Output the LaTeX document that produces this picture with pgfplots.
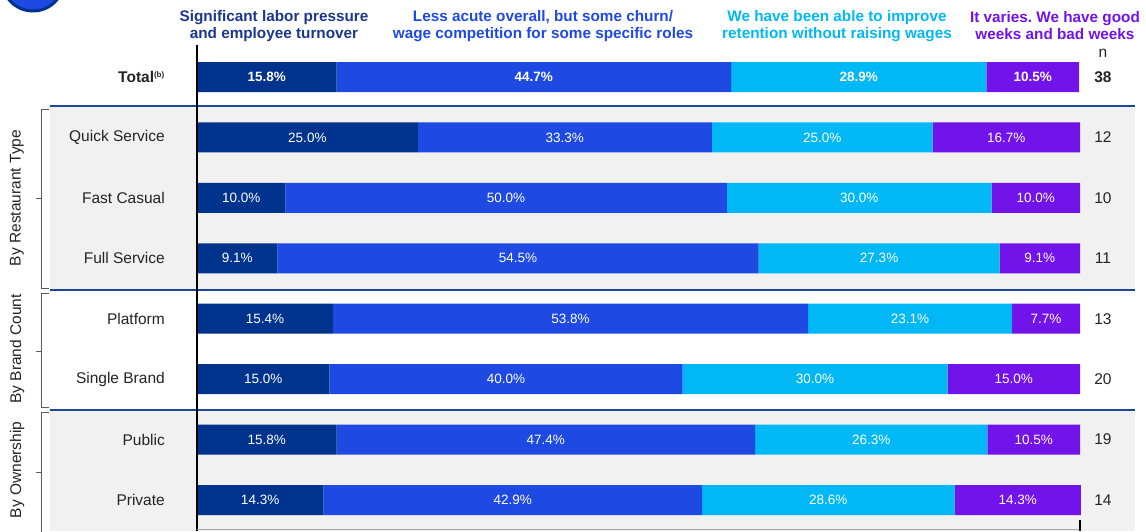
\documentclass[border=0pt]{standalone}
\usepackage{fontspec}
\setmainfont{Liberation Sans}
\usepackage{pgfplots}
\usepackage{pgfplotstable}
\pgfplotsset{compat=1.18}
\frenchspacing
\definecolor{kdark}{RGB}{0,51,141}
\definecolor{kcob}{RGB}{30,73,226}
\definecolor{klight}{RGB}{0,184,245}
\definecolor{kpur}{RGB}{114,19,234}
\definecolor{hdark}{RGB}{27,55,140}
\definecolor{band}{RGB}{241,241,241}
\definecolor{sepblue}{RGB}{30,70,150}
\definecolor{txt}{RGB}{35,35,35}
\definecolor{brk}{RGB}{90,90,90}

\pgfplotstableread{
row a b c d n
0 15.8 44.7 28.9 10.5 38
1 25.0 33.3 25.0 16.7 12
2 10.0 50.0 30.0 10.0 10
3 9.1 54.5 27.3 9.1 11
4 15.4 53.8 23.1 7.7 13
5 15.0 40.0 30.0 15.0 20
6 15.8 47.4 26.3 10.5 19
7 14.3 42.9 28.6 14.3 14
}\datatable

\newcommand{\lab}{\fontsize{15.5}{18}\selectfont}
\newcommand{\hdr}{\fontsize{15.3}{17}\selectfont\bfseries}

\pgfplotsset{
  common/.style={
    at={(0pt,0pt)}, anchor=south west, scale only axis,
    width=883pt, height=484pt,
    xmin=0, xmax=100, ymin=-0.53, ymax=7.48, y dir=reverse,
    /pgf/number format/assume math mode=true,
  },
  seglabel/.style={
    draw=none, mark=none, point meta=explicit,
    visualization depends on={\thisrow{row} \as \rowid},
    nodes near coords={\ifdim\rowid pt<0.5pt\bfseries\fi\pgfmathprintnumber[fixed,fixed zerofill,precision=1,assume math mode=true]{\pgfplotspointmeta}\%},
    nodes near coords align={center},
    every node near coord/.append style={anchor=center, text=white, font=\fontsize{13.5}{15}\selectfont},
  },
}

\begin{document}
\begin{tikzpicture}
\clip (-197pt,-2pt) rectangle (949pt,529pt);
% background bands
\fill[band] (-147pt,239pt) rectangle (938pt,423pt);
\fill[band] (-147pt,-2pt) rectangle (938pt,119pt);
\draw[sepblue, line width=1.1pt] (-147pt,423pt) -- (938pt,423pt);
\draw[sepblue, line width=1.1pt] (-147pt,239pt) -- (938pt,239pt);
\draw[sepblue, line width=1.1pt] (-147pt,119pt) -- (938pt,119pt);
% circle top-left
\draw[kdark, fill=kcob, line width=3pt] (-164pt,549pt) circle (31pt);
% brackets
\draw[brk, line width=1pt] (-148pt,419pt) -- (-155pt,419pt) -- (-155pt,241pt) -- (-148pt,241pt);
\draw[brk, line width=1pt] (-161pt,330pt) -- (-155pt,330pt);
\draw[brk, line width=1pt] (-148pt,236pt) -- (-155pt,236pt) -- (-155pt,122pt) -- (-148pt,122pt);
\draw[brk, line width=1pt] (-161pt,178pt) -- (-155pt,178pt);
\draw[brk, line width=1pt] (-148pt,117pt) -- (-155pt,117pt) -- (-155pt,-5pt);
\draw[brk, line width=1pt] (-161pt,57pt) -- (-155pt,57pt);
\node[rotate=90, text=txt, font=\lab] at (-180pt,331pt) {By Restaurant Type};
\node[rotate=90, text=txt, font=\lab] at (-180pt,180pt) {By Brand Count};
\node[rotate=90, text=txt, font=\lab] at (-180pt,59pt) {By Ownership};
% headers
\node[align=center, text=hdark, font=\hdr] at (77pt,503pt) {Significant labor pressure\\and employee turnover};
\node[align=center, text=kcob, font=\hdr] at (346pt,503pt) {Less acute overall, but some churn/\\wage competition for some specific roles};
\node[align=center, text=klight, font=\hdr] at (640pt,503pt) {We have been able to improve\\retention without raising wages};
\node[align=center, text=kpur, font=\hdr] at (858pt,503pt) {It varies. We have good\\weeks and bad weeks};
\node[text=txt, font=\lab] at (906pt,476pt) {n};

\begin{axis}[common,
  xbar stacked, bar width=30pt,
  axis line style={draw=none},
  xtick=\empty, ytick={0,...,7},
  major tick length=0pt,
  yticklabels={{\textbf{Total}\textsuperscript{\bfseries\fontsize{8}{9}\selectfont(b)}},Quick Service,Fast Casual,Full Service,Platform,Single Brand,Public,Private},
  yticklabel style={anchor=east, inner sep=0pt, xshift=-32pt, font=\lab, text=txt},
  clip=false,
]
\addplot[fill=kdark, draw=none] table[x=a, y=row] {\datatable};
\addplot[fill=kcob, draw=none] table[x=b, y=row] {\datatable};
\addplot[fill=klight, draw=none] table[x=c, y=row] {\datatable};
\addplot[fill=kpur, draw=none] table[x=d, y=row] {\datatable};
\end{axis}

\begin{axis}[common, hide axis, clip=false]
\addplot[seglabel] table[x expr=\thisrow{a}/2, y=row, meta=a] {\datatable};
\addplot[seglabel] table[x expr=\thisrow{a}+\thisrow{b}/2, y=row, meta=b] {\datatable};
\addplot[seglabel] table[x expr=\thisrow{a}+\thisrow{b}+\thisrow{c}/2, y=row, meta=c] {\datatable};
\addplot[seglabel] table[x expr=\thisrow{a}+\thisrow{b}+\thisrow{c}+\thisrow{d}/2, y=row, meta=d] {\datatable};
\addplot[draw=none, mark=none, point meta=explicit,
  visualization depends on={\thisrow{row} \as \rowid},
  nodes near coords={\ifdim\rowid pt<0.5pt\bfseries\fi\pgfmathprintnumber[assume math mode=true]{\pgfplotspointmeta}},
  nodes near coords align={center},
  every node near coord/.append style={anchor=center, text=txt, font=\lab},
] table[x expr=102.6, y=row, meta=n] {\datatable};
\end{axis}

% axis lines
\draw[black, line width=2pt] (0pt,484pt) -- (0pt,-2pt);
\draw[gray!70, line width=1pt] (0pt,0pt) -- (883pt,0pt);
\draw[black, line width=1.5pt] (883pt,9pt) -- (883pt,-2pt);
\end{tikzpicture}
\end{document}
